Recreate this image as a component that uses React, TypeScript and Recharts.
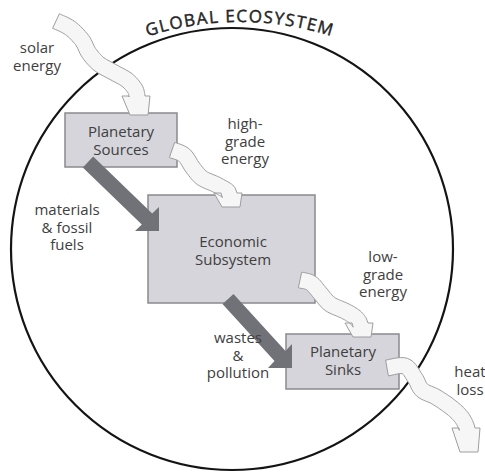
import React from 'react';
import { Scatter, ScatterChart, XAxis, YAxis } from 'recharts';

const W = 485;
const H = 475;

// diagram space: units of the original figure, origin at top-left
const X_DOMAIN: [number, number] = [0, 485];
const Y_DOMAIN: [number, number] = [0, 475];

const ecosystemCenter = [232, 249];
const ecosystemRadius = 221;

const titleText = 'GLOBAL ECOSYSTEM';
const titleArcCenter = [240, 322];
const titleArcRadius = 300;

const boxLeft = [65, 148, 286];
const boxTop = [113, 195, 334];
const boxRight = [177, 315, 399];
const boxBottom = [167, 303, 389];

// materials & fossil fuels, wastes & pollution
const flowTail = [[88, 162], [228, 299]];
const flowTip = [[159, 231], [292, 368]];

// solar, high-grade, low-grade, heat loss
const energyPaths = [
  [[56, 21], [70, 28], [82, 40], [89, 53], [99, 64], [113, 72], [127, 80], [135, 89], [137, 96]],
  [[172, 150], [184, 155], [193, 168], [202, 178], [215, 184], [226, 190], [229, 193]],
  [[300, 280], [311, 283], [320, 293], [330, 304], [345, 311], [355, 317], [360, 323]],
  [[387, 368], [405, 366], [415, 378], [422, 390], [436, 397], [452, 408], [462, 418], [467, 428]],
];
const energyHeadEnd = [115, 207, 337, 452];

const labelLines = [
  ['solar', 'energy'],
  ['Planetary', 'Sources'],
  ['high-', 'grade', 'energy'],
  ['materials', '& fossil', 'fuels'],
  ['Economic', 'Subsystem'],
  ['low-', 'grade', 'energy'],
  ['wastes', '&', 'pollution'],
  ['Planetary', 'Sinks'],
  ['heat', 'loss'],
];
const labelX = [37, 121, 245, 67, 233, 383, 238, 343, 470];
const labelY = [53, 137, 129, 215, 247, 262, 343, 357, 377];

const k = W / (X_DOMAIN[1] - X_DOMAIN[0]);
const FONT = "'Open Sans', sans-serif";
const INK = '#404040';

const spline = (pts: number[][], seg = 8) => {
  const out: number[][] = [];
  for (let i = 0; i < pts.length - 1; i++) {
    const p0 = pts[Math.max(0, i - 1)];
    const p1 = pts[i];
    const p2 = pts[i + 1];
    const p3 = pts[Math.min(pts.length - 1, i + 2)];
    for (let s = 0; s < seg; s++) {
      const t = s / seg;
      const t2 = t * t;
      const t3 = t2 * t;
      out.push(
        [0, 1].map(
          (j) =>
            0.5 *
            (2 * p1[j] +
              (-p0[j] + p2[j]) * t +
              (2 * p0[j] - 5 * p1[j] + 4 * p2[j] - p3[j]) * t2 +
              (-p0[j] + 3 * p1[j] - 3 * p2[j] + p3[j]) * t3),
        ),
      );
    }
  }
  out.push(pts[pts.length - 1]);
  return out;
};

const pts2str = (pts: number[][]) => pts.map((p) => `${p[0].toFixed(1)},${p[1].toFixed(1)}`).join(' ');

const EnergyArrow = (props: any) => {
  const { cx, cy, payload } = props;
  const { x, y, path, end } = payload;
  const px = path.map((p: number[]) => [cx + (p[0] - x) * k, cy + (p[1] - y) * k]);
  const line = spline(px);
  const hw = 8;
  const left: number[][] = [];
  const right: number[][] = [];
  line.forEach((p, i) => {
    let tx: number;
    let ty: number;
    if (i === line.length - 1) {
      tx = 0;
      ty = 1;
    } else {
      const a = line[Math.max(0, i - 1)];
      const b = line[i + 1];
      tx = b[0] - a[0];
      ty = b[1] - a[1];
    }
    const len = Math.hypot(tx, ty) || 1;
    const nx = -ty / len;
    const ny = tx / len;
    left.push([p[0] + nx * hw, p[1] + ny * hw]);
    right.push([p[0] - nx * hw, p[1] - ny * hw]);
  });
  const last = line[line.length - 1];
  const yEnd = cy + (end - y) * k;
  const head = [
    [last[0] - 15, last[1]],
    [last[0] - 7, yEnd],
    [last[0] + 11, yEnd],
    [last[0] + 13, last[1]],
  ];
  const poly = [...left, ...head, ...right.reverse()];
  return <polygon points={pts2str(poly)} fill="#f6f6f6" stroke="#9e9e9e" strokeWidth={1} strokeLinejoin="round" />;
};

const FlowArrow = (props: any) => {
  const { cx, cy, payload } = props;
  const P = [cx + (payload.tx - payload.x) * k, cy + (payload.ty - payload.y) * k];
  const L = 24;
  const M = [P[0] - L / 2, P[1] - L / 2];
  const dx = M[0] - cx;
  const dy = M[1] - cy;
  const len = Math.hypot(dx, dy);
  const nx = -dy / len;
  const ny = dx / len;
  const w = 7.5;
  const poly = [
    [cx - nx * w, cy - ny * w],
    [M[0] - nx * w, M[1] - ny * w],
    [P[0], P[1] - L],
    P,
    [P[0] - L, P[1]],
    [M[0] + nx * w, M[1] + ny * w],
    [cx + nx * w, cy + ny * w],
  ];
  return <polygon points={pts2str(poly)} fill="#717178" />;
};

const Box = (props: any) => {
  const { cx, cy, payload } = props;
  return (
    <rect
      x={cx}
      y={cy}
      width={payload.w * k}
      height={payload.h * k}
      fill="#d5d5db"
      stroke="#8a8a8e"
      strokeWidth={1.5}
    />
  );
};

const Ecosystem = (props: any) => {
  const { cx, cy, payload } = props;
  return <circle cx={cx} cy={cy} r={payload.r * k} fill="none" stroke="#141414" strokeWidth={2.2} />;
};

const Title = (props: any) => {
  const { cx, cy, payload } = props;
  const R = payload.r * k;
  const a = 0.7;
  const d = `M ${cx - R * Math.sin(a)} ${cy - R * Math.cos(a)} A ${R} ${R} 0 0 1 ${cx + R * Math.sin(a)} ${cy - R * Math.cos(a)}`;
  return (
    <g>
      <defs>
        <path id="titleArc" d={d} />
      </defs>
      <text
        fontFamily={FONT}
        fontSize={17}
        fill="#262626"
        stroke="#262626"
        strokeWidth={0.45}
        letterSpacing={1.4}
      >
        <textPath href="#titleArc" startOffset="50%" textAnchor="middle">
          {payload.text}
        </textPath>
      </text>
    </g>
  );
};

const Label = (props: any) => {
  const { cx, cy, payload } = props;
  return (
    <text x={cx} y={cy} fontFamily={FONT} fontSize={15} fill={INK} textAnchor="middle">
      {payload.lines.map((l: string, i: number) => (
        <tspan key={i} x={cx} dy={i === 0 ? 0 : 17.5}>
          {l}
        </tspan>
      ))}
    </text>
  );
};

const App = () => {
  const ecosystem = [{ x: ecosystemCenter[0], y: ecosystemCenter[1], r: ecosystemRadius }];
  const title = [{ x: titleArcCenter[0], y: titleArcCenter[1], r: titleArcRadius, text: titleText }];
  const boxes = boxLeft.map((x, i) => ({ x, y: boxTop[i], w: boxRight[i] - x, h: boxBottom[i] - boxTop[i] }));
  const flows = flowTail.map((t, i) => ({ x: t[0], y: t[1], tx: flowTip[i][0], ty: flowTip[i][1] }));
  const energy = energyPaths.map((p, i) => ({ x: p[0][0], y: p[0][1], path: p, end: energyHeadEnd[i] }));
  const labels = labelLines.map((lines, i) => ({ x: labelX[i], y: labelY[i], lines }));

  return (
    <div style={{ position: 'absolute', left: 0, top: 0, width: W, height: H, background: '#fff' }}>
      <ScatterChart width={W} height={H} margin={{ top: 0, right: 0, bottom: 0, left: 0 }}>
        <XAxis type="number" dataKey="x" domain={X_DOMAIN} hide />
        <YAxis type="number" dataKey="y" domain={Y_DOMAIN} reversed hide />
        <Scatter data={ecosystem} shape={Ecosystem} isAnimationActive={false} />
        <Scatter data={title} shape={Title} isAnimationActive={false} />
        <Scatter data={boxes} shape={Box} isAnimationActive={false} />
        <Scatter data={flows} shape={FlowArrow} isAnimationActive={false} />
        <Scatter data={energy} shape={EnergyArrow} isAnimationActive={false} />
        <Scatter data={labels} shape={Label} isAnimationActive={false} />
      </ScatterChart>
    </div>
  );
};

export default App;
